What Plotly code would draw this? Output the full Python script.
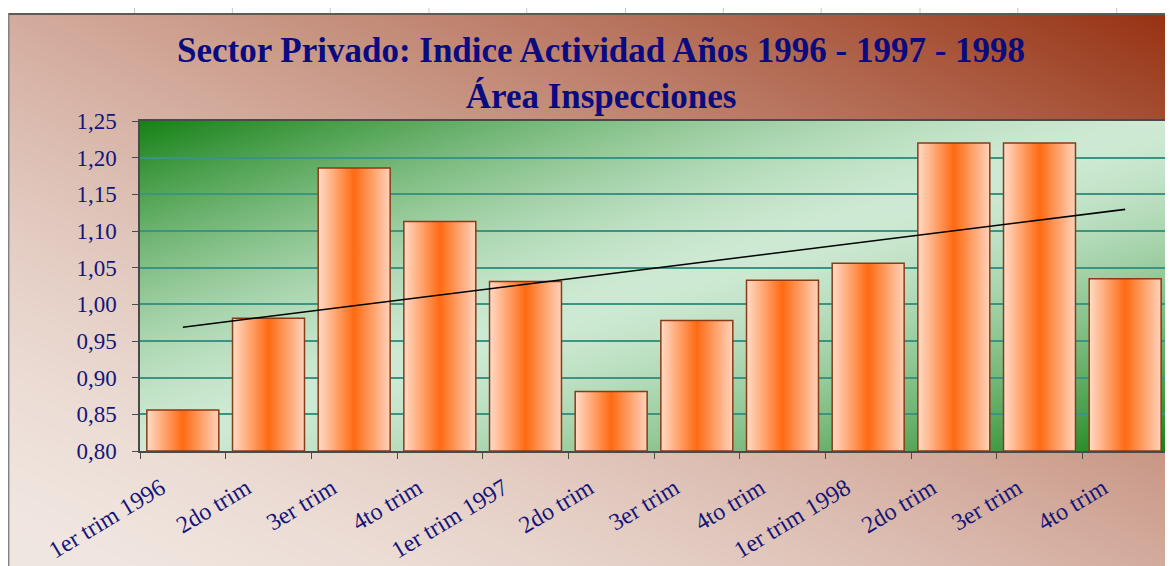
import base64
import struct
import zlib

import numpy as np
import plotly.graph_objects as go

# ---------------- data ----------------
categories = ["1er trim 1996", "2do trim", "3er trim", "4to trim",
              "1er trim 1997", "2do trim", "3er trim", "4to trim",
              "1er trim 1998", "2do trim", "3er trim", "4to trim"]
values = [0.856, 0.981, 1.186, 1.113, 1.031, 0.881,
          0.978, 1.033, 1.056, 1.220, 1.220, 1.035]
y_ticks = [0.80, 0.85, 0.90, 0.95, 1.00, 1.05, 1.10, 1.15, 1.20, 1.25]
title_line1 = "Sector Privado: Indice Actividad Años 1996 - 1997 - 1998"
title_line2 = "Área Inspecciones"

# ---------------- layout geometry ----------------
# the page body adds an 8 px offset; the figure is sized to fill the rest
OFF = 8
W, H = 1173 - OFF, 566 - OFF
ML, MR, MT, MB = 140 - OFF, 3, 121 - OFF, 115
PW, PH = W - ML - MR, H - MT - MB


def png_uri(img):
    h, w, _ = img.shape
    f = img.astype(np.int16)
    d = f.copy()
    d[:, 1:, :] = f[:, 1:, :] - f[:, :-1, :]
    d = (d % 256).astype(np.uint8)
    raw = np.concatenate([np.ones((h, 1), np.uint8), d.reshape(h, w * 3)], axis=1).tobytes()

    def chunk(t, data):
        c = t + data
        return struct.pack(">I", len(data)) + c + struct.pack(">I", zlib.crc32(c) & 0xffffffff)

    png = (b"\x89PNG\r\n\x1a\n"
           + chunk(b"IHDR", struct.pack(">IIBBBBB", w, h, 8, 2, 0, 0, 0))
           + chunk(b"IDAT", zlib.compress(raw, 9))
           + chunk(b"IEND", b""))
    return "data:image/png;base64," + base64.b64encode(png).decode()


# chart-area background (diagonal rust gradient) + spreadsheet margin
yy, xx = np.mgrid[0:H, 0:W].astype(float)
u = xx / (W - 1)
v = yy / (H - 1)
t = ((u + 1 - v) / 2) ** 1.6
light = np.array([241, 231, 225], float)
dark = np.array([150, 48, 16], float)
bg = light + (dark - light) * t[..., None]
Y0 = 13 - OFF
bg[:Y0, :, :] = 255
for gx in np.arange(133.5 - OFF, W, 98.4):
    bg[:Y0, int(round(gx)), :] = 200
bg[Y0:, 0:1, :] = 90
bg[Y0:Y0 + 2, :, :] = 90
bg_img = png_uri(np.clip(bg, 0, 255).astype(np.uint8))

# plot-area background (green, dark at TL and BR corners)
py, px = np.mgrid[0:PH, 0:PW].astype(float)
s = (px / (PW - 1) + py / (PH - 1)) / 2
tt = np.abs(2 * s - 1) ** 1.5
g_light = np.array([206, 234, 212], float)
g_dark = np.array([22, 130, 22], float)
pa = g_light + (g_dark - g_light) * tt[..., None]
pa_img = png_uri(np.clip(pa, 0, 255).astype(np.uint8))

# ---------------- figure ----------------
fig = go.Figure()

half = 0.42
for i, val in enumerate(values):
    fig.add_trace(go.Scatter(
        x=[i - half, i - half, i + half, i + half, i - half],
        y=[0.8, val, val, 0.8, 0.8],
        mode="lines",
        fill="toself",
        fillgradient=dict(type="horizontal",
                          colorscale=[[0, "#FFDCC8"], [0.5, "#FF6A12"], [1, "#FFD3BC"]]),
        line=dict(color="#8A3A14", width=1.5),
        name=categories[i],
        hoverinfo="skip",
        showlegend=False,
    ))

idx = np.arange(len(values))
slope, icpt = np.polyfit(idx, values, 1)
fig.add_trace(go.Scatter(
    x=[idx[0], idx[-1]],
    y=[icpt + slope * idx[0], icpt + slope * idx[-1]],
    mode="lines",
    line=dict(color="#000000", width=1.6),
    showlegend=False,
    hoverinfo="skip",
))

fig.update_layout(
    width=W, height=H,
    margin=dict(l=ML, r=MR, t=MT, b=MB),
    paper_bgcolor="white",
    plot_bgcolor="rgba(0,0,0,0)",
    separators=",.",
    showlegend=False,
    title=dict(
        text=title_line1 + "<br>" + title_line2,
        font=dict(family="Liberation Serif", size=35, color="#0B0B80", weight="bold"),
        x=(601 - OFF) / W, xref="container", xanchor="center",
        y=1 - (62 - OFF) / H, yref="container", yanchor="middle",
    ),
    images=[
        dict(source=bg_img, xref="paper", yref="paper",
             x=-ML / PW, y=1 + MT / PH, sizex=W / PW, sizey=H / PH,
             xanchor="left", yanchor="top", sizing="stretch", layer="below"),
        dict(source=pa_img, xref="paper", yref="paper",
             x=0, y=1, sizex=1, sizey=1,
             xanchor="left", yanchor="top", sizing="stretch", layer="below"),
    ],
    xaxis=dict(
        range=[-0.5, len(values) - 0.5],
        tickmode="array",
        tickvals=list(idx),
        ticktext=categories,
        ticks="",
        tickangle=-31,
        tickfont=dict(family="Liberation Serif", size=24, color="#151578"),
        ticklabelshift=-22,
        ticklabelstandoff=12,
        showgrid=False,
        zeroline=False,
        showline=True, linecolor="#4A4A4A", linewidth=1.5, mirror=True,
        minor=dict(tickmode="array", tickvals=[k - 0.5 for k in range(len(values) + 1)],
                   ticks="outside", ticklen=6, tickcolor="#4A4A4A", tickwidth=1.2,
                   showgrid=False),
        fixedrange=True,
    ),
    yaxis=dict(
        range=[0.8, 1.25],
        tickmode="array",
        tickvals=y_ticks,
        tickformat=".2f",
        ticks="outside", ticklen=6, tickcolor="#4A4A4A", tickwidth=1.2,
        tickfont=dict(family="Liberation Serif", size=23, color="#151578"),
        ticklabelstandoff=11,
        showgrid=True, gridcolor="#3A9484", gridwidth=1.5,
        zeroline=False,
        showline=True, linecolor="#4A4A4A", linewidth=1.5, mirror=True,
        fixedrange=True,
    ),
)

fig.write_html("out.html")
